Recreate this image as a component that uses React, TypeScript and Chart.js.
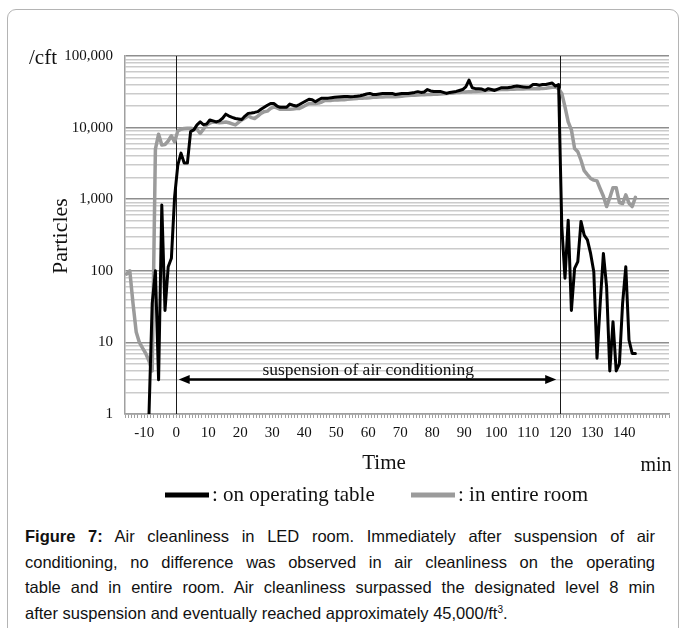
import React, { useEffect, useRef } from 'react';
import { Chart, registerables } from 'chart.js';

Chart.register(...registerables);

// ---- data (minutes after suspension of air conditioning) ----
const minutes: number[] = [
  -16, -15, -14, -13, -12, -11, -10, -9, -8, -7, -6, -5, -4, -3, -2, -1,
  0, 1, 2, 3, 4, 5, 6, 7, 8, 9, 10, 11, 12, 13, 14, 15, 16, 17, 18, 19,
  20, 21, 22, 23, 24, 25, 26, 27, 28, 29, 30, 31, 32, 33, 34, 35, 36, 37, 38, 39,
  40, 41, 42, 43, 44, 45, 46, 47, 48, 49, 50, 51, 52, 53, 54, 55, 56, 57, 58, 59,
  60, 61, 62, 63, 64, 65, 66, 67, 68, 69, 70, 71, 72, 73, 74, 75, 76, 77, 78, 79,
  80, 81, 82, 83, 84, 85, 86, 87, 88, 89, 90, 91, 92, 93, 94, 95, 96, 97, 98, 99,
  100, 101, 102, 103, 104, 105, 106, 107, 108, 109, 110, 111, 112, 113, 114, 115, 116, 117, 118, 119,
  120, 121, 122, 123, 124, 125, 126, 127, 128, 129, 130, 131, 132, 133, 134, 135, 136, 137, 138, 139,
  140, 141, 142, 143,
];

// particles /cft on the operating table
const operatingTable: (number | null)[] = [
  null, null, null, null, null, null, null, 1, 35, 100, 3, 830, 28, 114, 150, 1080,
  3000, 4400, 3200, 3200, 8800, 9300, 10900, 12000, 11000, 11200, 12800, 12400, 12000, 12400, 13500, 15400, 14500, 13900, 13400, 13200,
  13000, 14500, 15800, 16000, 16300, 16700, 18000, 19200, 20500, 21700, 21700, 20000, 19200, 19200, 19200, 21300, 20500, 20000, 21000, 22200,
  23500, 24900, 24500, 23000, 24500, 25800, 25800, 25800, 26200, 26600, 26800, 27000, 27200, 27200, 27000, 27200, 27500, 27800, 28500, 29500,
  30000, 29000, 29000, 29500, 30000, 30000, 30000, 30000, 29000, 29500, 30000, 30000, 30000, 30500, 31000, 31800, 31000, 31500, 34000, 32500,
  32000, 32000, 32000, 31000, 30000, 31000, 31500, 32000, 33000, 34000, 37000, 46000, 36000, 35000, 35000, 34500, 33000, 35000, 34000, 33000,
  34500, 35900, 36000, 36000, 36500, 37500, 38000, 37500, 37000, 36500, 37000, 40000, 40000, 39000, 40000, 40000, 41000, 42000, 38000, 40000,
  415, 79, 510, 28, 108, 134, 490, 315, 270, 175, 97, 6, 35, 175, 60, 4, 19.5, 4, 5, 35,
  114, 10.8, 7, 7,
];

// particles /cft in the entire room
const entireRoom: (number | null)[] = [
  90, 100, 35, 14, 10, 8.3, 7, 5.5, 4, 5000, 8100, 5700, 5800, 6500, 7700, 6300,
  9000, 9500, 9700, 9800, 9800, 9600, 9500, 8300, 9500, 10900, 11500, 12000, 11900, 11700, 11800, 12000, 11700, 11300, 10900, 11800,
  12800, 13600, 14500, 13800, 13400, 14500, 15800, 16700, 17000, 18500, 19500, 18800, 18000, 18000, 18000, 18000, 18200, 18500, 18500, 19500,
  20500, 21700, 21700, 21700, 22000, 22800, 24000, 24000, 24000, 24200, 24300, 24500, 24500, 24800, 25000, 25200, 25500, 25800, 25800, 26000,
  26200, 26500, 26500, 26700, 26800, 27000, 27000, 27000, 27000, 27200, 27500, 27800, 28000, 28200, 28300, 28500, 28700, 28800, 29000, 29000,
  29200, 29300, 29500, 29700, 30000, 30200, 30500, 30800, 31000, 31300, 31500, 31800, 31800, 32000, 32300, 32500, 32800, 33000, 33200, 33500,
  33700, 34000, 34000, 34000, 34200, 34300, 34500, 34500, 34700, 34800, 35000, 35000, 35000, 35000, 35300, 35500, 36000, 36500, 37000, 35000,
  30000, 19500, 12000, 9300, 5100, 4600, 3500, 2500, 2200, 1950, 1850, 1800, 1400, 1100, 790, 1050, 1450, 1450, 900, 870,
  1150, 880, 790, 1060,
];

const seriesNames = [': on operating table', ': in entire room'];
const seriesColors = ['#000000', '#9b9b9b'];
const xTickLabels = [-10, 0, 10, 20, 30, 40, 50, 60, 70, 80, 90, 100, 110, 120, 130, 140];
const yTickLabels = [1, 10, 100, 1000, 10000, 100000];
const yMinorMultipliers = [2, 3, 4, 5, 6, 7, 8, 9];
const X_MIN = -16;
const X_MAX = 154;
const SAMPLE_OFFSET = 0.5; // samples sit at the middle of each minute
const suspensionStart = 0;
const suspensionEnd = 120;
const arrowLevel = 3.1;
const arrowLabel = 'suspension of air conditioning';

// ---- layout ----
const W = 681;
const CANVAS_H = 515;
const PLOT_LEFT = 125;
const PLOT_TOP = 56;
const PLOT_RIGHT = 669;
const PLOT_BOTTOM = 414;
const SERIF = "'Liberation Serif', 'Times New Roman', serif";

const isDecade = (v: number) => {
  const l = Math.log10(v);
  return Math.abs(l - Math.round(l)) < 1e-9;
};

const yGridValues: number[] = [];
yTickLabels.forEach((d, i) => {
  yGridValues.push(d);
  if (i < yTickLabels.length - 1) yMinorMultipliers.forEach((m) => yGridValues.push(d * m));
});

const xTickPositions: number[] = [];
for (let m = X_MIN; m <= X_MAX; m++) xTickPositions.push(m);

const annotationPlugin = {
  id: 'figureAnnotations',
  beforeDatasetsDraw(chart: any) {
    const { ctx, chartArea, scales } = chart;
    const x = scales.x;
    ctx.save();
    ctx.strokeStyle = '#1a1a1a';
    ctx.lineWidth = 1;
    [suspensionStart, suspensionEnd].forEach((v) => {
      const px = Math.round(x.getPixelForValue(v)) + 0.5;
      ctx.beginPath();
      ctx.moveTo(px, chartArea.top);
      ctx.lineTo(px, chartArea.bottom);
      ctx.stroke();
    });
    ctx.restore();
  },
  afterDraw(chart: any) {
    const { ctx, scales } = chart;
    const x = scales.x;
    const y = scales.y;
    ctx.save();
    // double arrow
    const ay = Math.round(y.getPixelForValue(arrowLevel)) + 0.5;
    const ax0 = x.getPixelForValue(suspensionStart) + 2.5;
    const ax1 = x.getPixelForValue(suspensionEnd) - 4;
    const headL = 11;
    const headH = 4.5;
    ctx.strokeStyle = '#000';
    ctx.fillStyle = '#000';
    ctx.lineWidth = 2.5;
    ctx.beginPath();
    ctx.moveTo(ax0 + headL - 2, ay);
    ctx.lineTo(ax1 - headL + 2, ay);
    ctx.stroke();
    ctx.beginPath();
    ctx.moveTo(ax0, ay);
    ctx.lineTo(ax0 + headL, ay - headH);
    ctx.lineTo(ax0 + headL, ay + headH);
    ctx.closePath();
    ctx.fill();
    ctx.beginPath();
    ctx.moveTo(ax1, ay);
    ctx.lineTo(ax1 - headL, ay - headH);
    ctx.lineTo(ax1 - headL, ay + headH);
    ctx.closePath();
    ctx.fill();
    // arrow label
    ctx.font = `17.5px ${SERIF}`;
    ctx.textAlign = 'center';
    ctx.textBaseline = 'alphabetic';
    ctx.fillStyle = '#111';
    ctx.fillText(arrowLabel, x.getPixelForValue((suspensionStart + suspensionEnd) / 2), ay - 5);

    // unit and axis titles
    ctx.font = `21px ${SERIF}`;
    ctx.textAlign = 'left';
    ctx.fillText('/cft', 29, 64);
    ctx.textAlign = 'center';
    ctx.fillText('Time', 384, 469);
    ctx.font = `20px ${SERIF}`;
    ctx.fillText('min', 656, 471);
    ctx.save();
    ctx.translate(67, 236);
    ctx.rotate(-Math.PI / 2);
    ctx.font = `22px ${SERIF}`;
    ctx.fillText('Particles', 0, 0);
    ctx.restore();

    // legend
    const legendY = 495;
    const items = [
      { x0: 165, x1: 209 },
      { x0: 411, x1: 455 },
    ];
    ctx.font = `21px ${SERIF}`;
    ctx.textAlign = 'left';
    items.forEach((it, i) => {
      ctx.strokeStyle = seriesColors[i];
      ctx.lineWidth = 5;
      ctx.beginPath();
      ctx.moveTo(it.x0, legendY);
      ctx.lineTo(it.x1, legendY);
      ctx.stroke();
      ctx.fillStyle = '#111';
      ctx.fillText(seriesNames[i], it.x1 + 3, legendY + 6);
    });
    ctx.restore();
  },
};

export default function App() {
  const canvasRef = useRef<HTMLCanvasElement | null>(null);

  useEffect(() => {
    if (!canvasRef.current) return;
    const toPoints = (vals: (number | null)[]) =>
      minutes.map((m, i) => ({ x: m + SAMPLE_OFFSET, y: vals[i] }));
    const chart = new Chart(canvasRef.current, {
      type: 'line',
      data: {
        datasets: [
          {
            label: seriesNames[0],
            data: toPoints(operatingTable) as any,
            borderColor: seriesColors[0],
            borderWidth: 3,
            pointRadius: 0,
            borderJoinStyle: 'round',
            borderCapStyle: 'round',
            spanGaps: false,
            order: 0,
          },
          {
            label: seriesNames[1],
            data: toPoints(entireRoom) as any,
            borderColor: seriesColors[1],
            borderWidth: 3.5,
            pointRadius: 0,
            borderJoinStyle: 'round',
            borderCapStyle: 'round',
            spanGaps: false,
            order: 1,
          },
        ],
      },
      options: {
        animation: false,
        responsive: false,
        maintainAspectRatio: false,
        devicePixelRatio: 1,
        layout: { padding: { left: 0, top: PLOT_TOP, right: W - PLOT_RIGHT, bottom: 0 } },
        plugins: { legend: { display: false }, tooltip: { enabled: false } },
        elements: { line: { tension: 0 }, point: { radius: 0 } },
        scales: {
          x: {
            type: 'linear',
            min: X_MIN,
            max: X_MAX,
            afterBuildTicks: (s: any) => {
              s.ticks = xTickPositions.map((v) => ({ value: v }));
            },
            afterFit: (s: any) => {
              s.height = CANVAS_H - PLOT_BOTTOM;
            },
            grid: { drawOnChartArea: false, drawTicks: true, tickLength: 4, color: '#a0a0a0', lineWidth: 1 },
            border: { display: true, color: '#a0a0a0', width: 1.5 },
            ticks: {
              autoSkip: false,
              maxRotation: 0,
              minRotation: 0,
              padding: 6,
              color: '#111',
              font: { family: SERIF, size: 15 },
              callback: (v: any) => (xTickLabels.includes(Number(v)) ? String(v) : ''),
            },
          },
          y: {
            type: 'logarithmic',
            min: 1,
            max: 100000,
            afterBuildTicks: (s: any) => {
              s.ticks = yGridValues.map((v) => ({ value: v }));
            },
            afterFit: (s: any) => {
              s.width = PLOT_LEFT;
            },
            grid: {
              drawTicks: false,
              color: (c: any) => (c.tick && isDecade(c.tick.value) ? '#8e8e8e' : '#cbcbcb'),
              lineWidth: 1.5,
            },
            border: { display: true, color: '#a0a0a0', width: 1.5 },
            ticks: {
              autoSkip: false,
              padding: 12,
              color: '#111',
              font: { family: SERIF, size: 15 },
              callback: (v: any) => (isDecade(Number(v)) ? Number(v).toLocaleString('en-US') : ''),
            },
          },
        },
      },
      plugins: [annotationPlugin],
    });
    return () => chart.destroy();
  }, []);

  const lineStyle: React.CSSProperties = {
    textAlign: 'justify',
    textAlignLast: 'justify' as any,
    height: 25.5,
    lineHeight: '25.5px',
  };

  return (
    <div style={{ position: 'absolute', left: 0, top: 0, width: W, height: 628, overflow: 'hidden', background: '#fff' }}>
      <div
        style={{
          position: 'absolute',
          left: 7,
          top: 9,
          width: 672,
          height: 700,
          border: '1px solid #b4b4b4',
          borderRadius: 9,
          boxSizing: 'border-box',
        }}
      />
      <canvas
        ref={canvasRef}
        width={W}
        height={CANVAS_H}
        style={{ position: 'absolute', left: 0, top: 0, width: W, height: CANVAS_H }}
      />
      <div
        style={{
          position: 'absolute',
          left: 25,
          top: 524,
          width: 630,
          fontFamily: "'Liberation Sans', Arial, sans-serif",
          fontSize: 16.5,
          color: '#111',
        }}
      >
        <div style={lineStyle}>
          <b>Figure 7:</b> Air cleanliness in LED room. Immediately after suspension of air
        </div>
        <div style={lineStyle}>conditioning, no difference was observed in air cleanliness on the operating</div>
        <div style={lineStyle}>table and in entire room. Air cleanliness surpassed the designated level 8 min</div>
        <div style={{ ...lineStyle, textAlign: 'left', textAlignLast: 'left' as any }}>
          after suspension and eventually reached approximately 45,000/ft
          <sup style={{ fontSize: 10, lineHeight: 0 }}>3</sup>.
        </div>
      </div>
    </div>
  );
}
